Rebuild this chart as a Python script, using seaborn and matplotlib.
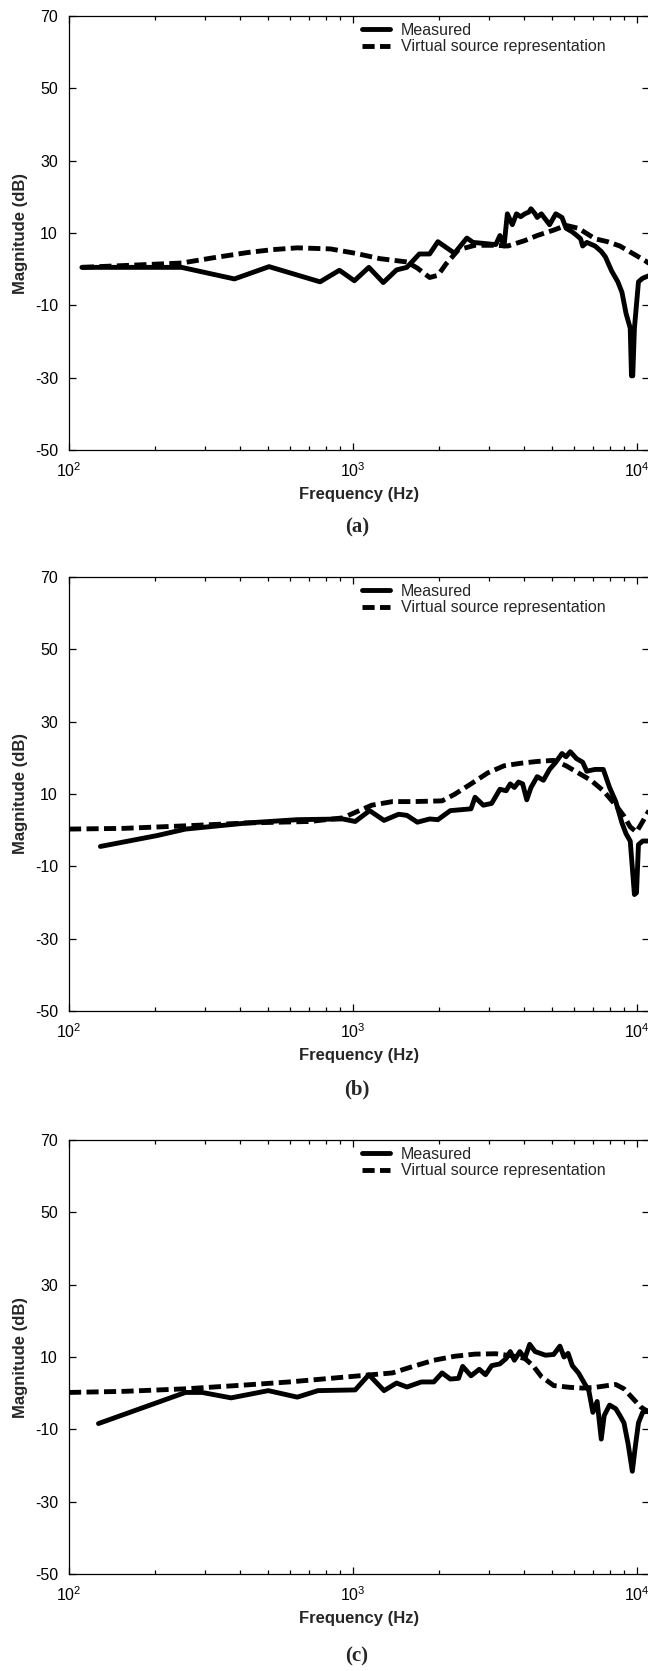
import numpy as np
import pandas as pd
import matplotlib
matplotlib.use("Agg")
import matplotlib.pyplot as plt
from matplotlib.ticker import LogLocator, FixedLocator, NullFormatter
import seaborn as sns

# panel (a)
freq_a_meas = [111, 249, 382, 506, 765, 895, 1010, 1136, 1277, 1422, 1546, 1710, 1859, 1988,
               2274, 2514, 2643, 3178, 3286, 3398, 3490, 3634, 3758, 3887, 4020, 4157, 4227,
               4370, 4445, 4596, 4753, 4914, 5168, 5434, 5619, 5909, 6110, 6318, 6425, 6643,
               7104, 7470, 7725, 8126, 8545, 8835, 9136, 9447, 9543, 9643, 9775, 10100, 10450, 11000]
mag_a_meas = [0.5, 0.5, -2.7, 0.7, -3.5, -0.3, -3.2, 0.5, -3.7, -0.2, 0.5, 4.2, 4.2, 7.6,
              4.4, 8.6, 7.4, 6.8, 9.3, 6.4, 15.3, 12.3, 15.3, 14.5, 15.3, 15.8, 16.7,
              15.3, 14.3, 15.3, 13.8, 12.3, 15.3, 14.3, 11.3, 10.3, 9.4, 8.4, 6.4, 7.4,
              6.4, 4.9, 3.4, -0.5, -3.5, -6.4, -12.3, -16.3, -29.5, -29.5, -16.3, -3.5, -2.5, -1.8]
freq_a_virt = [111, 156, 249, 325, 425, 520, 636, 832, 1017, 1244, 1546, 1683, 1859, 1988,
               2126, 2350, 2686, 3178, 3500, 4020, 4445, 5080, 5619, 6210, 7104, 7856, 8690,
               9610, 10630, 11000]
mag_a_virt = [0.5, 1.0, 1.7, 3.2, 4.6, 5.4, 5.9, 5.6, 4.4, 2.9, 2.0, 0.3, -2.3, -1.7,
              1.5, 5.4, 6.6, 6.6, 6.4, 7.9, 9.3, 10.8, 12.1, 11.3, 8.4, 7.6, 6.4,
              4.4, 2.4, 1.6]

# panel (b)
freq_b_meas = [129, 204, 257, 425, 636, 919, 1017, 1143, 1285, 1446, 1546, 1683, 1859, 1988,
               2198, 2350, 2600, 2686, 2873, 3073, 3286, 3456, 3573, 3694, 3821, 3951, 4085,
               4227, 4445, 4674, 4914, 5168, 5434, 5619, 5811, 6110, 6425, 6643, 7104, 7596,
               7991, 8403, 8835, 9136, 9447, 9775, 9940, 10100, 10450, 11000]
mag_b_meas = [-4.5, -1.5, 0.3, 2.0, 2.9, 3.1, 2.4, 5.4, 2.7, 4.4, 4.1, 2.2, 3.1, 2.9,
              5.4, 5.6, 5.9, 9.1, 6.9, 7.4, 11.3, 10.9, 12.8, 11.8, 13.3, 12.8, 8.4,
              11.8, 14.8, 13.8, 16.8, 18.8, 21.2, 20.3, 21.7, 19.8, 18.8, 16.3, 16.8, 16.8,
              11.8, 7.9, 2.0, -1.0, -3.0, -17.8, -17.3, -4.0, -3.0, -3.0]
freq_b_virt = [100, 156, 257, 425, 703, 919, 1051, 1163, 1375, 1626, 2056, 2274, 2600, 2972,
               3398, 3887, 4445, 5080, 5619, 6210, 6870, 7596, 8403, 8980, 9447, 9940, 10450, 11000]
mag_b_virt = [0.3, 0.5, 1.2, 2.0, 2.4, 3.4, 5.4, 6.9, 7.9, 7.9, 8.1, 9.9, 12.8, 15.8,
              17.8, 18.5, 19.0, 19.3, 17.8, 15.8, 13.8, 10.9, 6.9, 3.9, 0.9, -0.5, 2.4, 5.4]

# panel (c)
freq_c_meas = [127, 257, 294, 372, 503, 636, 752, 1017, 1136, 1285, 1422, 1546, 1738, 1923,
               2056, 2198, 2350, 2430, 2600, 2780, 2924, 3073, 3286, 3456, 3573, 3694, 3862,
               4020, 4183, 4370, 4753, 5080, 5343, 5525, 5711, 5909, 6210, 6531, 6755, 6980,
               7226, 7470, 7650, 7991, 8403, 8690, 8980, 9290, 9610, 9833, 10100, 10450, 11000]
mag_c_meas = [-8.4, 0.2, 0.2, -1.3, 0.7, -1.1, 0.7, 0.9, 5.1, 0.7, 2.8, 1.7, 3.1, 3.1,
              5.6, 3.9, 4.1, 7.4, 4.8, 6.6, 5.1, 7.6, 8.1, 9.6, 11.5, 9.1, 11.5,
              9.6, 13.5, 11.5, 10.5, 10.7, 13.0, 10.0, 11.0, 7.6, 5.6, 2.6, 0.7, -5.3,
              -2.3, -12.7, -6.2, -3.3, -4.3, -6.2, -8.2, -14.1, -21.6, -15.1, -8.2, -5.3, -4.8]
freq_c_virt = [100, 156, 257, 425, 595, 832, 1163, 1375, 1626, 1923, 2274, 2686, 3178, 3635,
               4020, 4297, 4596, 5080, 5811, 6425, 7104, 7856, 8403, 8980, 9610, 10280, 11000]
mag_c_virt = [0.2, 0.5, 1.2, 2.3, 3.1, 4.1, 5.1, 5.6, 7.4, 9.1, 10.2, 10.8, 10.9, 10.3,
              9.6, 7.6, 4.6, 2.1, 1.6, 1.4, 1.6, 2.1, 2.4, 1.2, -1.3, -3.8, -5.3]

panels = [
    ("(a)", freq_a_meas, mag_a_meas, freq_a_virt, mag_a_virt),
    ("(b)", freq_b_meas, mag_b_meas, freq_b_virt, mag_b_virt),
    ("(c)", freq_c_meas, mag_c_meas, freq_c_virt, mag_c_virt),
]
yticks = [-50, -30, -10, 10, 30, 50, 70]

sns.set_style("ticks")
plt.rcParams["font.family"] = ["Liberation Sans", "DejaVu Sans"]
plt.rcParams["axes.unicode_minus"] = False
plt.rcParams["mathtext.fontset"] = "custom"
plt.rcParams["mathtext.rm"] = "Liberation Sans"

W, H = 648, 1671
fig = plt.figure(figsize=(W / 100, H / 100), dpi=100)

# pixel boxes (top, bottom) of each axes
boxes = [(16, 450), (577, 1011), (1140, 1574)]
caption_y = [527, 1089, 1656]
left, right = 69, 649

for (tag, fm, mm, fv, mv), (top, bot), cy in zip(panels, boxes, caption_y):
    ax = fig.add_axes([left / W, 1 - bot / H, (right - left) / W, (bot - top) / H])
    meas = pd.DataFrame({"f": fm, "m": mm})
    virt = pd.DataFrame({"f": fv, "m": mv})
    sns.lineplot(data=meas, x="f", y="m", ax=ax, color="black", lw=3.5,
                 estimator=None, sort=False, label="Measured")
    sns.lineplot(data=virt, x="f", y="m", ax=ax, color="black", lw=3.5,
                 estimator=None, sort=False, linestyle=(0, (2.5, 1.1)),
                 label="Virtual source representation")
    ax.set_xscale("log")
    ax.set_xlim(100, 11000)
    ax.set_ylim(-50, 70)
    ax.yaxis.set_major_locator(FixedLocator(yticks))
    ax.xaxis.set_major_locator(LogLocator(base=10))
    ax.xaxis.set_minor_locator(LogLocator(base=10, subs=np.arange(2, 10)))
    ax.xaxis.set_minor_formatter(NullFormatter())
    ax.tick_params(which="both", direction="in", top=True, right=True,
                   labelsize=11.5, colors="black", width=0.9)
    ax.tick_params(which="major", length=5, pad=8)
    ax.tick_params(which="minor", length=3)
    for s in ax.spines.values():
        s.set_linewidth(0.9)
        s.set_color("black")
    ax.set_xlabel("Frequency (Hz)", fontsize=12, fontweight="bold", labelpad=5)
    ax.set_ylabel("Magnitude (dB)", fontsize=12, fontweight="bold", labelpad=5)
    ax.legend(loc="upper left", bbox_to_anchor=(0.505, 0.985), frameon=False,
              fontsize=11.5, handlelength=1.75, handletextpad=0.7,
              labelspacing=0.1, borderpad=0, borderaxespad=0)
    fig.text(357 / W, 1 - cy / H, tag, ha="center", va="center",
             family="Liberation Serif", fontweight="bold", fontsize=15)

fig.savefig("out.png", dpi=100)
